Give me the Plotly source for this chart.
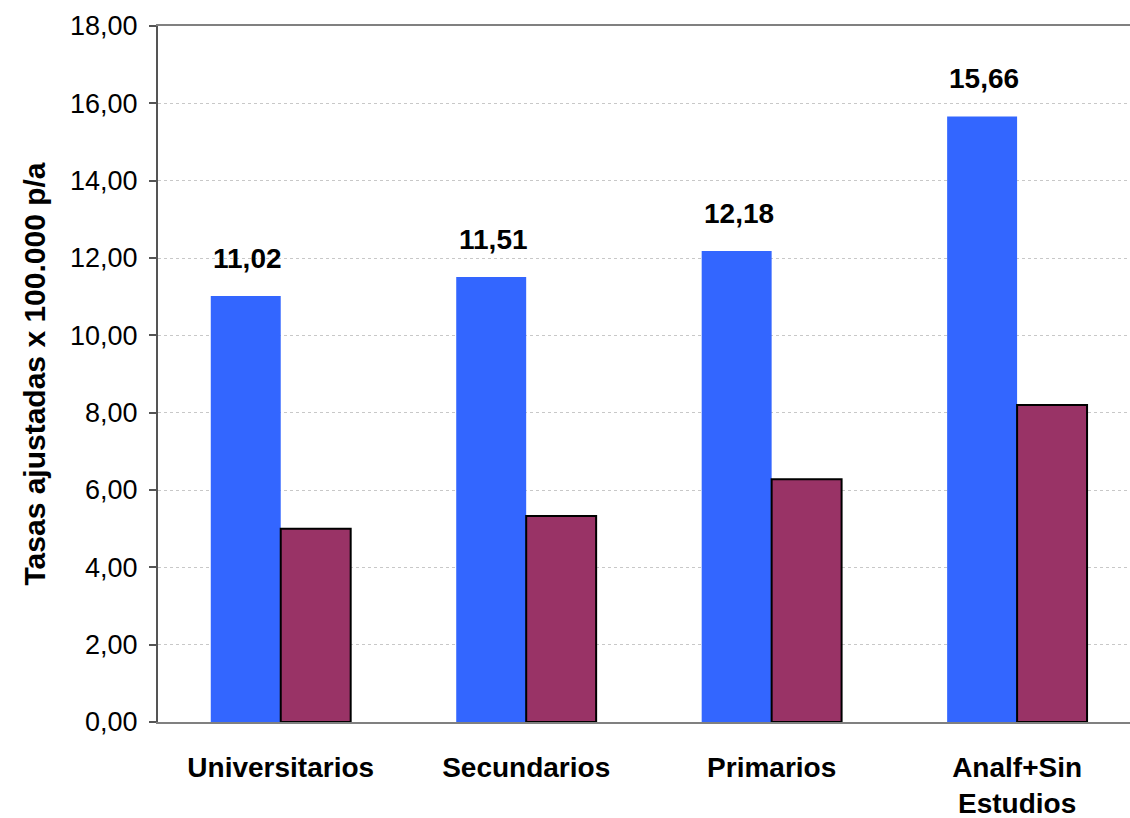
import plotly.graph_objects as go

# Categories and rates (adjusted rate per 100,000 person-years)
categorias = ["Universitarios", "Secundarios", "Primarios", "Analf+Sin<br>Estudios"]
tasa_serie1 = [11.02, 11.51, 12.18, 15.66]
tasa_serie2 = [5.00, 5.33, 6.28, 8.20]

y_ticks = [0, 2, 4, 6, 8, 10, 12, 14, 16, 18]
y_tick_labels = ["0,00", "2,00", "4,00", "6,00", "8,00", "10,00", "12,00",
                 "14,00", "16,00", "18,00"]

FONT = "Liberation Sans, Arial, sans-serif"

fig = go.Figure()
fig.add_trace(go.Bar(
    x=categorias, y=tasa_serie1,
    marker=dict(color="#3366FF", line=dict(width=0)),
    showlegend=False,
))
fig.add_trace(go.Bar(
    x=categorias, y=tasa_serie2,
    marker=dict(color="#993366", line=dict(color="#000000", width=2)),
    showlegend=False,
))

# Value labels above the first series
for cat, v in zip(categorias, tasa_serie1):
    fig.add_annotation(
        x=cat, y=v, xref="x", yref="y",
        text=f"<b>{v:.2f}".replace(".", ",") + "</b>",
        showarrow=False, yanchor="bottom", yshift=20, xshift=-33,
        font=dict(family=FONT, size=28, color="#000000"),
    )

fig.update_layout(
    width=1130, height=818,
    margin=dict(l=158, r=0, t=26, b=96),
    paper_bgcolor="#FFFFFF", plot_bgcolor="#FFFFFF",
    barmode="group", bargap=0.43, bargroupgap=0,
    font=dict(family=FONT, color="#000000"),
)

fig.update_xaxes(
    type="category", range=[-0.5, 3.46],
    showline=True, linecolor="#808080", linewidth=2, mirror=True,
    showgrid=False, ticks="", ticklabelstandoff=19,
    tickfont=dict(family=FONT, size=28, color="#000000", weight="bold"),
)
fig.update_yaxes(
    range=[0, 18], tickvals=y_ticks, ticktext=y_tick_labels,
    showline=True, linecolor="#555555", linewidth=2,
    ticks="outside", ticklen=7, tickcolor="#555555", tickwidth=2,
    ticklabelstandoff=6,
    showgrid=True, gridcolor="#C8C8C8", griddash="dot", gridwidth=1,
    zeroline=False,
    tickfont=dict(family=FONT, size=27, color="#000000"),
    title=dict(text="<b>Tasas ajustadas x 100.000 p/a</b>",
               font=dict(family=FONT, size=30, color="#000000"), standoff=16),
)

fig.write_html("out.html")
